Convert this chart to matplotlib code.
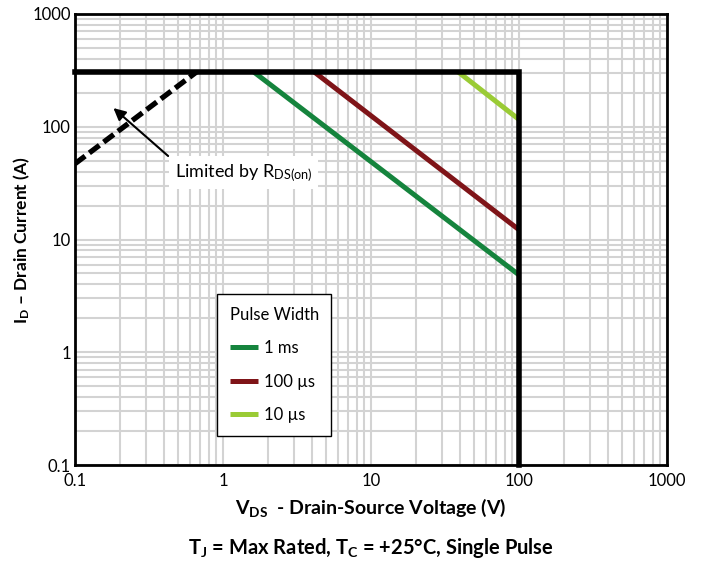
import matplotlib
matplotlib.use("Agg")
import matplotlib.pyplot as plt
from matplotlib.ticker import LogLocator, FixedLocator, NullFormatter

FONT = ["Lato", "DejaVu Sans"]
plt.rcParams['font.family'] = FONT
plt.rcParams['mathtext.fontset'] = 'custom'
plt.rcParams['mathtext.rm'] = 'Lato'
plt.rcParams['mathtext.bf'] = 'Lato:bold'
plt.rcParams['mathtext.it'] = 'Lato:italic'

# ---- data ----
current_limit = 305.0          # A (package limit)
vds_max = 100.0                # V (max rating)
rds_v = [0.1, 0.66]            # RDS(on) limit line
rds_i = [47.0, 305.0]
pulse_labels = ["1 ms", "100 \u00b5s", "10 \u00b5s"]
pulse_v = [[1.62, 100.0], [4.15, 100.0], [39.0, 100.0]]
pulse_i = [[305.0, 4.85], [305.0, 12.2], [305.0, 116.0]]
pulse_colors = ["#15843d", "#7f1418", "#9acb35"]
tick_vals = [0.1, 1, 10, 100, 1000]
tick_labels = ["0.1", "1", "10", "100", "1000"]

fig = plt.figure(figsize=(7.02, 5.65), dpi=100)
ax = fig.add_axes([75/702, 1-465/565, (667-75)/702, (465-14)/565])
ax.set_xscale("log")
ax.set_yscale("log")
ax.set_xlim(0.1, 1000)
ax.set_ylim(0.1, 1000)

ax.xaxis.set_major_locator(FixedLocator(tick_vals))
ax.yaxis.set_major_locator(FixedLocator(tick_vals))
ax.set_xticklabels(tick_labels)
ax.set_yticklabels(tick_labels)
ax.xaxis.set_minor_locator(LogLocator(base=10, subs=range(2, 10), numticks=20))
ax.yaxis.set_minor_locator(LogLocator(base=10, subs=range(2, 10), numticks=20))
ax.xaxis.set_minor_formatter(NullFormatter())
ax.yaxis.set_minor_formatter(NullFormatter())
ax.grid(True, which="both", color="#d3d3d3", linewidth=1.5)
ax.set_axisbelow(True)
ax.tick_params(which="both", length=0, labelsize=12)
ax.tick_params(axis="x", pad=6)
ax.tick_params(axis="y", pad=3)
for s in ax.spines.values():
    s.set_linewidth(2.0)
    s.set_color("black")

# boundary
ax.plot([0.1, vds_max, vds_max], [current_limit, current_limit, 0.1],
        color="black", lw=4.0, solid_joinstyle="miter", zorder=5, clip_on=False)
ax.plot(rds_v, rds_i, color="black", lw=3.8, dashes=(2.4, 1.0), zorder=5)

lines = []
for v, i, c, lab in zip(pulse_v, pulse_i, pulse_colors, pulse_labels):
    ln, = ax.plot(v, i, color=c, lw=3.6, label=lab, zorder=4, solid_capstyle="butt")
    lines.append(ln)

leg = ax.legend(handles=lines, title="Pulse Width", loc="upper left",
                bbox_to_anchor=(217/702, 1-294/565), bbox_transform=fig.transFigure,
                borderaxespad=0, fancybox=False, framealpha=1, edgecolor="black",
                fontsize=12, title_fontsize=12, handlelength=1.7, handletextpad=0.4,
                labelspacing=1.05, borderpad=0.75, alignment="left")
leg.get_frame().set_linewidth(1.0)

ax.annotate("", xy=(0.176, 152), xytext=(0.44, 53),
            arrowprops=dict(arrowstyle="-|>", color="black", lw=1.5,
                            mutation_scale=18), zorder=6)
ax.text(1.38, 39, r"Limited by R$_{\mathrm{DS(on)}}$", fontsize=13,
        ha="center", va="center", zorder=6,
        bbox=dict(facecolor="white", edgecolor="none", pad=4))

fig.text(371/702, 1-508/565, r"$\mathbf{V_{DS}}$  - Drain-Source Voltage (V)",
         ha="center", va="center", fontsize=14, fontweight="bold")
fig.text(371/702, 1-548/565,
         r"$\mathbf{T_{J}}$ = Max Rated, $\mathbf{T_{C}}$ = +25" + "\u00b0" + "C, Single Pulse",
         ha="center", va="center", fontsize=14.5, fontweight="bold")
fig.text(22/702, 1-240/565, r"$\mathbf{I_{D}}$ " + "\u2013" + " Drain Current (A)",
         ha="center", va="center", fontsize=12.5, fontweight="bold", rotation=90)

fig.savefig("out.png", dpi=100)
